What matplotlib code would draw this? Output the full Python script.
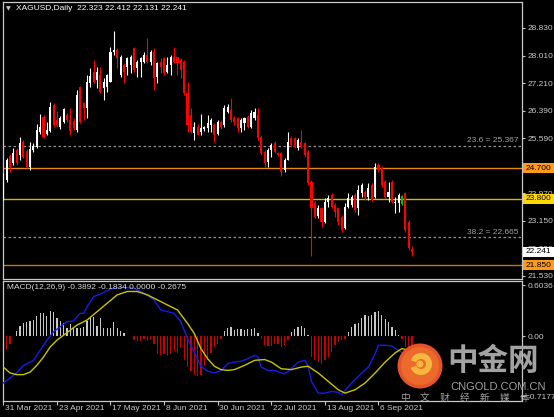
import matplotlib
matplotlib.use('Agg')
import matplotlib.pyplot as plt
from matplotlib.patches import Circle, Wedge, Rectangle
from matplotlib.transforms import blended_transform_factory
import numpy as np

# ---------------- data ----------------
opens = [23.97, 24.35, 25.06, 24.86, 25.24, 25.09, 25.47, 25.21, 24.74, 25.24,
         25.33, 25.77, 26.21, 25.71, 25.80, 26.56, 26.12, 25.92, 26.06, 26.27,
         26.12, 26.09, 25.83, 27.09, 26.62, 26.47, 27.21, 27.53, 27.30, 27.45,
         27.06, 27.09, 27.24, 28.12, 28.18, 27.45, 27.74, 27.68, 27.74, 28.24,
         27.65, 27.83, 27.83, 28.03, 27.83, 28.12, 27.39, 27.83, 27.95, 27.53,
         27.74, 27.98, 27.98, 27.89, 27.83, 26.92, 26.27, 25.74, 25.92, 25.77,
         25.86, 25.89, 25.97, 25.97, 25.71, 26.06, 25.97, 26.36, 26.42, 26.18,
         26.18, 25.89, 26.03, 26.21, 25.92, 26.18, 26.27, 25.62, 25.18, 24.89,
         25.24, 25.44, 25.15, 25.15, 24.65, 24.94, 25.59, 25.59, 25.30, 25.47,
         25.44, 25.18, 24.30, 23.68, 23.30, 23.53, 23.12, 23.71, 23.91, 23.62,
         23.53, 23.27, 22.94, 23.56, 23.62, 23.91, 23.53, 23.97, 24.00, 23.85,
         24.21, 23.85, 24.80, 24.71, 24.30, 23.85, 24.30, 23.68, 23.68, 23.65,
         23.97, 23.12, 22.323]
highs = [24.56, 25.00, 25.12, 25.30, 25.30, 25.62, 25.53, 25.27, 25.47, 25.44,
         26.00, 26.30, 26.27, 26.06, 26.65, 26.62, 26.39, 26.24, 26.47, 26.33,
         26.47, 26.18, 27.00, 27.12, 26.65, 27.45, 27.65, 27.89, 27.68, 27.68,
         27.36, 27.48, 28.27, 28.74, 28.24, 28.03, 27.80, 27.98, 28.03, 28.27,
         27.89, 27.98, 28.12, 28.54, 28.18, 28.24, 27.83, 27.95, 27.98, 27.98,
         28.03, 28.27, 27.98, 27.95, 27.89, 27.24, 26.47, 26.06, 26.00, 26.30,
         25.95, 26.27, 26.18, 26.03, 26.12, 26.12, 26.56, 26.59, 26.77, 26.24,
         26.21, 26.18, 26.21, 26.27, 26.42, 26.47, 26.47, 25.68, 25.24, 25.30,
         25.44, 25.50, 25.18, 25.18, 25.00, 25.77, 25.65, 25.62, 25.59, 25.83,
         25.47, 25.24, 24.35, 23.74, 23.62, 23.56, 23.82, 23.91, 23.97, 23.68,
         23.56, 23.32, 23.68, 23.97, 23.91, 23.97, 24.21, 24.27, 24.06, 24.27,
         24.27, 24.85, 24.85, 24.77, 24.35, 24.30, 24.35, 23.85, 23.97, 23.91,
         24.00, 23.18, 22.412]
lows = [23.77, 24.30, 24.59, 24.80, 24.80, 24.94, 25.00, 24.71, 24.65, 25.18,
        25.30, 25.71, 25.59, 25.68, 25.77, 25.92, 25.92, 25.86, 26.03, 26.06,
        25.68, 25.83, 25.77, 26.03, 26.12, 26.18, 27.09, 27.21, 27.06, 26.92,
        26.71, 26.95, 27.24, 28.03, 27.65, 27.39, 27.21, 27.45, 27.51, 27.53,
        27.39, 27.39, 27.80, 27.80, 27.74, 27.00, 27.21, 27.51, 27.45, 27.51,
        27.45, 27.80, 27.45, 27.36, 26.86, 25.77, 25.74, 25.53, 25.68, 25.68,
        25.80, 25.77, 25.77, 25.47, 25.68, 25.86, 25.92, 26.33, 26.06, 25.97,
        25.77, 25.77, 25.83, 25.89, 25.89, 26.12, 25.53, 25.09, 24.74, 24.74,
        25.03, 25.15, 25.06, 24.47, 24.59, 24.94, 25.33, 25.30, 25.24, 25.30,
        25.03, 24.21, 22.12, 23.24, 23.24, 22.97, 23.09, 23.56, 23.53, 23.27,
        23.03, 22.82, 22.91, 23.53, 23.56, 23.41, 23.32, 23.85, 23.77, 23.77,
        23.74, 23.82, 24.59, 24.15, 23.82, 23.71, 23.68, 23.38, 23.41, 23.62,
        22.82, 22.29, 22.131]
closes = [24.38, 24.94, 24.74, 25.15, 24.86, 25.44, 25.03, 24.74, 25.27, 25.36,
          25.83, 25.92, 25.62, 25.83, 26.50, 25.97, 25.97, 26.18, 26.45, 26.12,
          25.80, 25.89, 26.86, 26.06, 26.47, 27.24, 27.42, 27.24, 27.53, 26.95,
          27.24, 27.45, 28.12, 28.18, 27.95, 27.98, 27.53, 27.95, 27.98, 27.59,
          27.83, 27.95, 28.03, 27.83, 28.12, 27.36, 27.80, 27.68, 27.51, 27.74,
          27.98, 27.83, 27.80, 27.59, 26.92, 25.97, 25.77, 25.92, 25.68, 25.89,
          25.92, 26.03, 26.12, 25.68, 26.06, 25.92, 26.47, 26.50, 26.12, 26.06,
          25.89, 26.12, 26.18, 25.92, 26.33, 26.36, 25.59, 25.15, 24.86, 25.24,
          25.39, 25.18, 25.09, 24.59, 24.94, 25.47, 25.39, 25.33, 25.53, 25.33,
          25.09, 24.27, 23.53, 23.27, 23.53, 23.12, 23.71, 23.82, 23.56, 23.41,
          23.12, 22.88, 23.56, 23.82, 23.85, 23.47, 24.06, 24.21, 23.85, 24.12,
          23.77, 24.74, 24.65, 24.21, 23.85, 24.00, 23.71, 23.71, 23.91, 23.88,
          22.88, 22.35, 22.241]
green_bar = 119

hist = [-0.26, -0.17, -0.10, 0.0, 0.06, 0.12, 0.16, 0.17, 0.18, 0.19,
        0.24, 0.27, 0.27, 0.24, 0.30, 0.28, 0.22, 0.18, 0.16, 0.10,
        0.14, 0.09, 0.10, 0.09, 0.11, 0.18, 0.21, 0.23, 0.12, 0.21,
        0.09, 0.10, 0.09, 0.17, 0.10, 0.06, 0.03, 0.0, 0.0, -0.05,
        -0.06, -0.06, -0.04, -0.06, -0.05, -0.10, -0.22, -0.23, -0.21, -0.24,
        -0.22, -0.18, -0.20, -0.14, -0.28, -0.37, -0.42, -0.46, -0.48, -0.46,
        -0.36, -0.28, -0.20, -0.13, -0.09, -0.04, 0.06, 0.10, 0.11, 0.07,
        0.08, 0.08, 0.07, 0.08, 0.08, 0.09, 0.03, -0.03, -0.11, -0.12,
        -0.12, -0.10, -0.10, -0.13, -0.11, -0.05, 0.05, 0.08, 0.11, 0.12,
        0.09, 0.01, -0.25, -0.28, -0.31, -0.33, -0.29, -0.25, -0.19, -0.11,
        -0.07, -0.05, -0.04, 0.05, 0.11, 0.14, 0.15, 0.21, 0.25, 0.24,
        0.25, 0.29, 0.30, 0.25, 0.20, 0.17, 0.11, 0.07, 0.01, -0.03,
        -0.13, -0.13, -0.12]

macd_idx = [0, 2, 4, 6, 8, 9, 11, 13, 15, 17, 19, 21, 22, 23, 24, 25, 27, 29, 32, 35,
            39, 42, 45, 47, 49, 51, 53, 55, 57, 59, 61, 63, 65, 67, 69, 71, 73, 75, 76, 77,
            79, 81, 83, 84, 86, 88, 90, 91, 92, 94, 96, 98, 100, 101, 103, 105, 107, 109,
            111, 112, 114, 116, 118, 120, 122]
macd_vals = [-0.56, -0.50, -0.44, -0.35, -0.31, -0.29, -0.17, -0.05, 0.05, 0.11,
             0.17, 0.18, 0.23, 0.27, 0.27, 0.35, 0.47, 0.50, 0.56, 0.58,
             0.57, 0.51, 0.43, 0.31, 0.29, 0.27, 0.17, -0.03, -0.19, -0.36,
             -0.42, -0.44, -0.41, -0.33, -0.31, -0.30, -0.27, -0.23, -0.25, -0.37,
             -0.41, -0.41, -0.44, -0.45, -0.39, -0.31, -0.29, -0.36, -0.54, -0.68,
             -0.68, -0.66, -0.67, -0.70, -0.60, -0.52, -0.44, -0.37, -0.21, -0.11,
             -0.11, -0.12, -0.17, -0.22, -0.39]
signal_idx = [0, 2, 4, 6, 8, 10, 12, 14, 16, 18, 20, 22, 25, 28, 31, 34, 37, 40, 43, 46,
              49, 52, 55, 57, 59, 61, 63, 65, 67, 69, 72, 75, 78, 80, 83, 86, 89, 91, 94, 97,
              100, 102, 105, 108, 111, 114, 117, 119, 122]
signal_vals = [-0.37, -0.44, -0.46, -0.46, -0.43, -0.35, -0.25, -0.13, -0.05, 0.01,
               0.07, 0.13, 0.19, 0.29, 0.39, 0.49, 0.53, 0.53, 0.49, 0.43,
               0.37, 0.31, 0.15, 0.03, -0.15, -0.27, -0.36, -0.40, -0.41, -0.40,
               -0.35, -0.29, -0.28, -0.31, -0.39, -0.40, -0.37, -0.36, -0.44, -0.54,
               -0.64, -0.68, -0.64, -0.56, -0.44, -0.31, -0.20, -0.15, -0.18]

price_ticks = [28.830, 28.010, 27.210, 26.390, 25.590, 24.770, 23.970, 23.150, 22.330, 21.530]
hidden_price_ticks = [24.770]          # fully covered by the 24.700 marker in the reference
macd_ticks = [0.6036, 0.0, -0.7177]
macd_tick_labels = ['0.6036', '0.00', '-0.7177']
date_labels = ['31 Mar 2021', '23 Apr 2021', '17 May 2021', '8 Jun 2021',
               '30 Jun 2021', '22 Jul 2021', '13 Aug 2021', '6 Sep 2021']
date_step = 16

levels = [24.700, 23.800, 21.850]
level_names = ['24.700', '23.800', '21.850']
fib_levels = [25.367, 22.665]
fib_texts = ['23.6 = 25.367', '38.2 = 22.665']
last_price = 22.241
title = 'XAGUSD,Daily  22.323 22.412 22.131 22.241'
macd_title = 'MACD(12,26,9) -0.3892 -0.1834 0.0000 -0.2675'

# ---------------- style ----------------
W, H = 554, 417
plt.rcParams['font.family'] = ['Liberation Sans', 'DejaVu Sans']
FG = '#c8c8c8'
fig = plt.figure(figsize=(W / 100, H / 100), dpi=100, facecolor='black')


def fx(px):
    return px / W


def fy(py):
    return 1 - py / H


ax = fig.add_axes([fx(2.5), fy(278.5), fx(519), (278.5 - 2) / H])
ax2 = fig.add_axes([fx(2.5), fy(400.5), fx(519), (400.5 - 280.5) / H])
for a in (ax, ax2):
    a.set_facecolor('black')
    for s in a.spines.values():
        s.set_color(FG)
        s.set_linewidth(0.9)
    a.set_xlim(-0.24, 154.7)
    a.yaxis.tick_right()
    a.tick_params(axis='y', colors=FG, labelsize=6, length=2.5, width=0.8, pad=2)

ax.set_ylim(21.455, 29.595)
ax2.set_ylim(-0.768, 0.661)

# ---------------- candles ----------------
o = np.array(opens); h = np.array(highs); l = np.array(lows); c = np.array(closes)
x = np.arange(len(o))
cols = np.where(c >= o, '#ffffff', '#ff0000').astype(object)
cols[green_bar] = '#00c000'
ax.vlines(x, l, h, colors=list(cols), linewidth=0.8, zorder=3)
ax.bar(x, np.maximum(np.abs(c - o), 0.02), bottom=np.minimum(o, c), width=0.62,
       color=list(cols), linewidth=0, zorder=4)

# levels
lev_line_cols = ['#e8880c', '#d8b400', '#c07a08']
lev_box_cols = ['#ff9a1a', '#ffd800', '#ff9a1a']
for lv, lc in zip(levels, lev_line_cols):
    ax.axhline(lv, color=lc, linewidth=1.0, zorder=2)
for fl, ft in zip(fib_levels, fib_texts):
    ax.axhline(fl, color='#909090', linewidth=0.9, linestyle=(0, (2, 2)), zorder=2)
    ax.text(0.994, fl + 0.04, ft, transform=blended_transform_factory(ax.transAxes, ax.transData),
            ha='right', va='bottom', color='#a0a0a0', fontsize=6, zorder=5)

ax.set_xticks([])
ax.set_yticks(price_ticks)
ax.set_yticklabels(['' if t in hidden_price_ticks else '%.3f' % t for t in price_ticks])

bt = blended_transform_factory(fig.transFigure, ax.transData)
box_h = 10 / 33.97
for lv, nm, bc in list(zip(levels, level_names, lev_box_cols)) + [(last_price, '%.3f' % last_price, '#ffffff')]:
    ax.add_patch(Rectangle((fx(522.5), lv - box_h / 2), fx(31.5), box_h, transform=bt,
                           facecolor=bc, edgecolor='none', clip_on=False, zorder=6))
    ax.text(fx(526), lv, nm, transform=bt, ha='left', va='center', fontsize=6,
            color='black', clip_on=False, zorder=7)

# ---------------- MACD ----------------
hv = np.array(hist)
ax2.bar(x, hv, width=0.38, color=np.where(hv >= 0, '#c8c8c8', '#c80000'), linewidth=0, zorder=2)
ax2.plot(macd_idx, macd_vals, color='#1a1ae6', linewidth=1.0, zorder=3)
ax2.plot(signal_idx, signal_vals, color='#c8c400', linewidth=1.0, zorder=3)
ax2.set_yticks(macd_ticks)
ax2.set_yticklabels(macd_tick_labels)

tick_pos = [i * date_step for i in range(len(date_labels))]
ax2.set_xticks(tick_pos)
ax2.set_xticklabels([])
ax2.tick_params(axis='x', colors=FG, length=3, width=0.8, direction='out')
for tp, dl in zip(tick_pos, date_labels):
    ax2.text(tp + 0.5, -0.063, dl, transform=blended_transform_factory(ax2.transData, ax2.transAxes),
             ha='left', va='center', fontsize=6, color=FG, clip_on=False)

# titles
fig.text(fx(8.5), fy(9), '\u25BC', fontsize=4.5, color=FG, ha='center', va='center',
         family=['DejaVu Sans'])
fig.text(fx(15.5), fy(9), title, fontsize=6, color='white', ha='left', va='center')
fig.text(fx(7), fy(287.5), macd_title, fontsize=6, color='#d8d8d8', ha='left', va='center')

# ---------------- watermark ----------------
lax = fig.add_axes([fx(396), fy(390), fx(48), 48 / H])
lax.set_xlim(0, 48); lax.set_ylim(0, 48); lax.axis('off')
lax.add_patch(Circle((24, 24), 22.5, facecolor='#e4542a', edgecolor='none'))
lax.add_patch(Circle((24, 24), 19, facecolor='#ec6a2c', edgecolor='none'))
lax.add_patch(Wedge((25, 26), 11, 200, 520, width=6, facecolor='#f6b73c', edgecolor='none'))
lax.add_patch(Circle((24, 26), 3.5, facecolor='#f6b73c', edgecolor='none'))

fig.text(fx(493), fy(361), '中金网', fontsize=22, fontweight='bold', color='#a2a2a2',
         ha='center', va='center', family=['Noto Sans CJK SC'])
fig.text(fx(498), fy(386.5), 'CNGOLD.COM.CN', fontsize=8, color='#a2a2a2', ha='center', va='center')
for i, ch in enumerate('中文财经新媒体'):
    fig.text(fx(405 + i * 20.0), fy(398), ch, fontsize=7, color='#a2a2a2', ha='center', va='center',
             family=['Noto Sans CJK SC'])

fig.savefig('out.png', dpi=100, facecolor='black')
